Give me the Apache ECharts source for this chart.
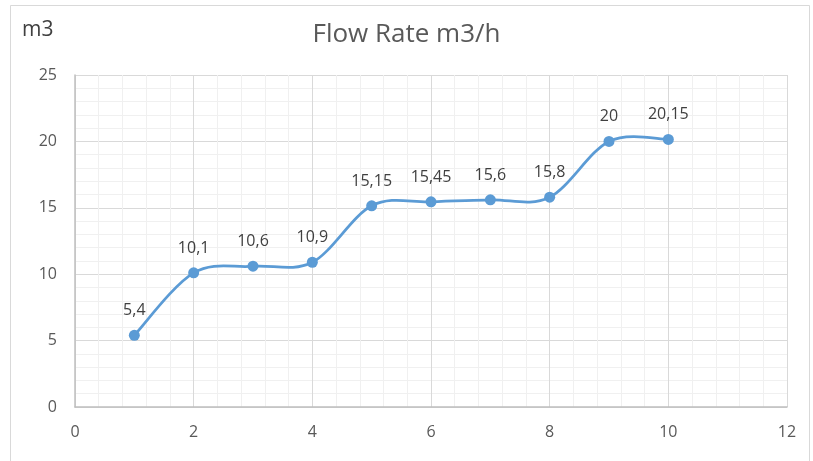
<!DOCTYPE html>
<html><head><meta charset="utf-8">
<script src="https://cdn.jsdelivr.net/npm/echarts@6/dist/echarts.min.js"></script>
<style>html,body{margin:0;padding:0;background:#fff}#c{width:813px;height:461px}</style>
</head><body><div id="c"></div>
<script>
const xValues = [1, 2, 3, 4, 5, 6, 7, 8, 9, 10];
const flowRate = [5.4, 10.1, 10.6, 10.9, 15.15, 15.45, 15.6, 15.8, 20, 20.15];
const titleText = 'Flow Rate m3/h';
const yAxisName = 'm3';

const FONT = '"Open Sans", sans-serif';
const points = xValues.map((x, i) => [x, flowRate[i]]);

// Excel-style smoothed line (Catmull-Rom as cubic Bezier), via the axes' scales
function renderSmooth(params, api) {
  if (params.dataIndex !== 0) return null;
  const c = points.map(p => api.coord(p));
  const n = c.length;
  let d = 'M' + c[0][0] + ',' + c[0][1];
  for (let i = 0; i < n - 1; i++) {
    const p0 = c[Math.max(i - 1, 0)], p1 = c[i], p2 = c[i + 1], p3 = c[Math.min(i + 2, n - 1)];
    const c1x = p1[0] + (p2[0] - p0[0]) / 6, c1y = p1[1] + (p2[1] - p0[1]) / 6;
    const c2x = p2[0] - (p3[0] - p1[0]) / 6, c2y = p2[1] - (p3[1] - p1[1]) / 6;
    d += ' C' + c1x + ',' + c1y + ' ' + c2x + ',' + c2y + ' ' + p2[0] + ',' + p2[1];
  }
  return {
    type: 'path', shape: {pathData: d},
    style: {fill: 'none', stroke: '#5b9bd5', lineWidth: 2.75, lineCap: 'round', lineJoin: 'round'}
  };
}

const chart = echarts.init(document.getElementById('c'));
chart.setOption({
  animation: false,
  backgroundColor: '#fff',
  graphic: [{
    type: 'rect', shape: {x: 10.5, y: 5.5, width: 799, height: 470},
    style: {fill: 'none', stroke: '#d9d9d9', lineWidth: 1}
  }, {
    type: 'text', left: 22, top: 20,
    style: {text: yAxisName, font: '21px "Open Sans", sans-serif', fill: '#404040'}
  }],
  title: {
    text: titleText, left: 'center', top: 17,
    textStyle: {fontFamily: FONT, fontSize: 26, fontWeight: 'normal', color: '#595959'}
  },
  grid: {left: 75, right: 26, top: 75, bottom: 54},
  xAxis: {
    type: 'value', min: 0, max: 12, interval: 2,
    axisLine: {show: true, lineStyle: {color: '#bfbfbf', width: 1.5}},
    axisTick: {show: false},
    axisLabel: {color: '#595959', fontSize: 16, fontFamily: FONT, margin: 17},
    splitLine: {show: true, lineStyle: {color: '#d9d9d9'}},
    minorTick: {show: false, splitNumber: 5},
    minorSplitLine: {show: true, lineStyle: {color: '#f0f0f0'}}
  },
  yAxis: {
    type: 'value', min: 0, max: 25, interval: 5,
    axisLine: {show: true, lineStyle: {color: '#bfbfbf', width: 1.5}},
    axisTick: {show: false},
    axisLabel: {color: '#595959', fontSize: 16, fontFamily: FONT, margin: 18},
    splitLine: {show: true, lineStyle: {color: '#d9d9d9'}},
    minorTick: {show: false, splitNumber: 5},
    minorSplitLine: {show: true, lineStyle: {color: '#f0f0f0'}}
  },
  series: [{
    type: 'custom',
    data: points,
    encode: {x: 0, y: 1},
    renderItem: renderSmooth,
    z: 2
  }, {
    type: 'line',
    data: points,
    symbol: 'circle', symbolSize: 11,
    itemStyle: {color: '#5b9bd5'},
    lineStyle: {width: 0, opacity: 0},
    z: 3,
    label: {
      show: true, position: 'top', distance: 11,
      color: '#404040', fontSize: 16, fontFamily: FONT,
      formatter: p => String(p.value[1]).replace('.', ',')
    }
  }]
});
</script></body></html>
